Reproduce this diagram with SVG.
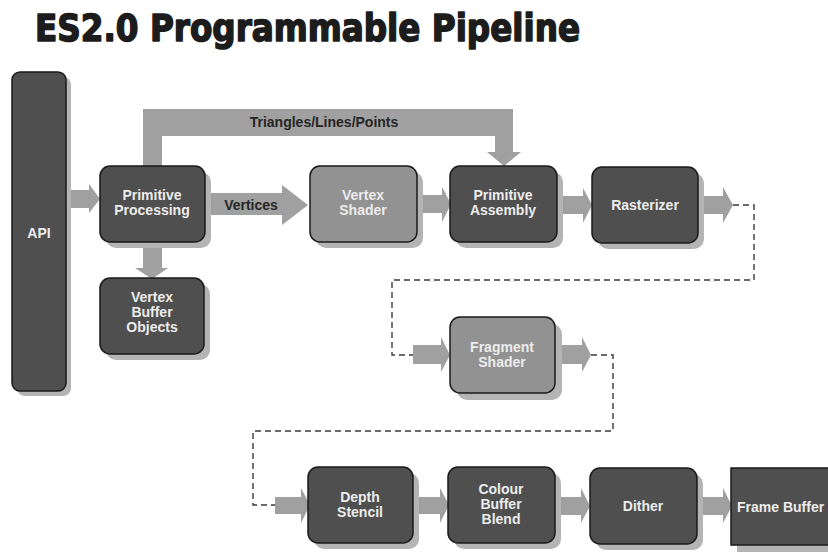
<svg xmlns="http://www.w3.org/2000/svg" width="828" height="552" viewBox="0 0 828 552">
  <style>
    .title { font-family: "DejaVu Sans", "Liberation Sans", Arial, sans-serif; font-weight: bold; font-size: 37px; fill: #1c1c1c; stroke: #1c1c1c; stroke-width: 1.6; stroke-linejoin: round; }
    .lbl { font-family: "Liberation Sans", Arial, sans-serif; font-weight: bold; font-size: 14px; fill: #ececec; text-anchor: middle; }
    .dark-lbl { font-family: "Liberation Sans", Arial, sans-serif; font-weight: bold; font-size: 14px; fill: #262626; text-anchor: middle; }
    .shadow { fill: #b4b4b4; }
    .dark { fill: #4f4f4f; stroke: #1a1a1a; stroke-width: 1.5; }
    .light { fill: #929292; stroke: #1a1a1a; stroke-width: 1.5; }
    .arrow { fill: #a0a0a0; }
    .dash { fill: none; stroke: #3a3a3a; stroke-width: 1.4; stroke-dasharray: 6 4; }
  </style>

  <text class="title" x="35" y="41" textLength="545" lengthAdjust="spacingAndGlyphs">ES2.0 Programmable Pipeline</text>

  <!-- connectors: block arrows and dashed routing lines -->
  <g id="connectors">
    <!-- API -> Primitive Processing -->
    <path class="arrow" d="M66,190 H89 V184 L100,199 L89,213 V208 H66 Z"/>
    <!-- Primitive Processing -> Vertex Buffer Objects -->
    <path class="arrow" d="M143,242 V268 H135 L152,279 L168,268 H162 V242 Z"/>
    <!-- Triangles/Lines/Points bypass bracket -->
    <path class="arrow" d="M143,166 V109 H513 V152 H521 L504,166 L487,152 H495 V136 H162 V166 Z" fill="#a8a8a8"/>
    <text class="dark-lbl" x="324" y="127">Triangles/Lines/Points</text>
    <!-- Vertices -->
    <path class="arrow" d="M205,193 H282 V185 L308,205 L282,225 V215 H205 Z"/>
    <text class="dark-lbl" x="251" y="210">Vertices</text>
    <!-- Vertex Shader -> Primitive Assembly -->
    <path class="arrow" d="M417,195 H442 V187 L451,204 L442,222 V213 H417 Z"/>
    <!-- Primitive Assembly -> Rasterizer -->
    <path class="arrow" d="M557,196 H583 V188 L592,205 L583,223 V214 H557 Z"/>
    <!-- Rasterizer out -->
    <path class="arrow" d="M698,196 H723 V187 L733,205 L723,223 V214 H698 Z"/>
    <path class="dash" d="M733,205 H754 V280 H392 V355 H413"/>
    <!-- into Fragment Shader -->
    <path class="arrow" d="M413,345 H441 V337 L450,355 L441,372 V364 H413 Z"/>
    <!-- Fragment Shader out -->
    <path class="arrow" d="M555,345 H582 V337 L591,355 L582,372 V364 H555 Z"/>
    <path class="dash" d="M591,355 H613 V431 H253 V505 H275"/>
    <!-- into Depth Stencil -->
    <path class="arrow" d="M275,497 H301 V488 L310,505 L301,523 V514 H275 Z"/>
    <!-- Depth Stencil -> Colour Buffer Blend -->
    <path class="arrow" d="M413,497 H440 V488 L449,505 L440,523 V514 H413 Z"/>
    <!-- Colour Buffer Blend -> Dither -->
    <path class="arrow" d="M555,497 H581 V488 L590,506 L581,523 V515 H555 Z"/>
    <!-- Dither -> Frame Buffer -->
    <path class="arrow" d="M697,497 H723 V488 L732,506 L723,523 V515 H697 Z"/>
  </g>

  <g id="api">
    <rect class="shadow" x="17" y="77" width="54" height="319" rx="8"/>
    <rect class="dark" x="12" y="72" width="54" height="319" rx="8"/>
    <text class="lbl" x="39" y="238">API</text>
  </g>

  <g id="primitive-processing">
    <rect class="shadow" x="106" y="172" width="105" height="76" rx="10"/>
    <rect class="dark" x="100" y="166" width="105" height="76" rx="10"/>
    <text class="lbl" x="152" y="200">Primitive</text>
    <text class="lbl" x="152" y="215">Processing</text>
  </g>

  <g id="vertex-buffer-objects">
    <rect class="shadow" x="106" y="284" width="104" height="76" rx="10"/>
    <rect class="dark" x="100" y="278" width="104" height="76" rx="10"/>
    <text class="lbl" x="152" y="302">Vertex</text>
    <text class="lbl" x="152" y="317">Buffer</text>
    <text class="lbl" x="152" y="332">Objects</text>
  </g>

  <g id="vertex-shader">
    <rect class="shadow" x="316" y="172" width="107" height="76" rx="10"/>
    <rect class="light" x="310" y="166" width="107" height="76" rx="10"/>
    <text class="lbl" x="363" y="200">Vertex</text>
    <text class="lbl" x="363" y="215">Shader</text>
  </g>

  <g id="primitive-assembly">
    <rect class="shadow" x="456" y="172" width="107" height="76" rx="10"/>
    <rect class="dark" x="450" y="166" width="107" height="76" rx="10"/>
    <text class="lbl" x="503" y="200">Primitive</text>
    <text class="lbl" x="503" y="215">Assembly</text>
  </g>

  <g id="rasterizer">
    <rect class="shadow" x="598" y="173" width="106" height="76" rx="10"/>
    <rect class="dark" x="592" y="167" width="106" height="76" rx="10"/>
    <text class="lbl" x="645" y="210">Rasterizer</text>
  </g>

  <g id="fragment-shader">
    <rect class="shadow" x="457" y="324" width="105" height="76" rx="10"/>
    <rect class="light" x="450" y="317" width="105" height="76" rx="10"/>
    <text class="lbl" x="502" y="352">Fragment</text>
    <text class="lbl" x="502" y="367">Shader</text>
  </g>

  <g id="depth-stencil">
    <rect class="shadow" x="314" y="473" width="105" height="76" rx="10"/>
    <rect class="dark" x="308" y="467" width="105" height="76" rx="10"/>
    <text class="lbl" x="360" y="502">Depth</text>
    <text class="lbl" x="360" y="517">Stencil</text>
  </g>

  <g id="colour-buffer-blend">
    <rect class="shadow" x="454" y="473" width="107" height="76" rx="10"/>
    <rect class="dark" x="448" y="467" width="107" height="76" rx="10"/>
    <text class="lbl" x="501" y="494">Colour</text>
    <text class="lbl" x="501" y="509">Buffer</text>
    <text class="lbl" x="501" y="524">Blend</text>
  </g>

  <g id="dither">
    <rect class="shadow" x="596" y="474" width="107" height="76" rx="10"/>
    <rect class="dark" x="590" y="468" width="107" height="76" rx="10"/>
    <text class="lbl" x="643" y="511">Dither</text>
  </g>

  <g id="frame-buffer">
    <rect class="shadow" x="737" y="474" width="100" height="78"/>
    <rect class="dark" x="731" y="468" width="105" height="77"/>
    <text class="lbl" x="737" y="512" style="text-anchor:start">Frame Buffer</text>
  </g>
</svg>
